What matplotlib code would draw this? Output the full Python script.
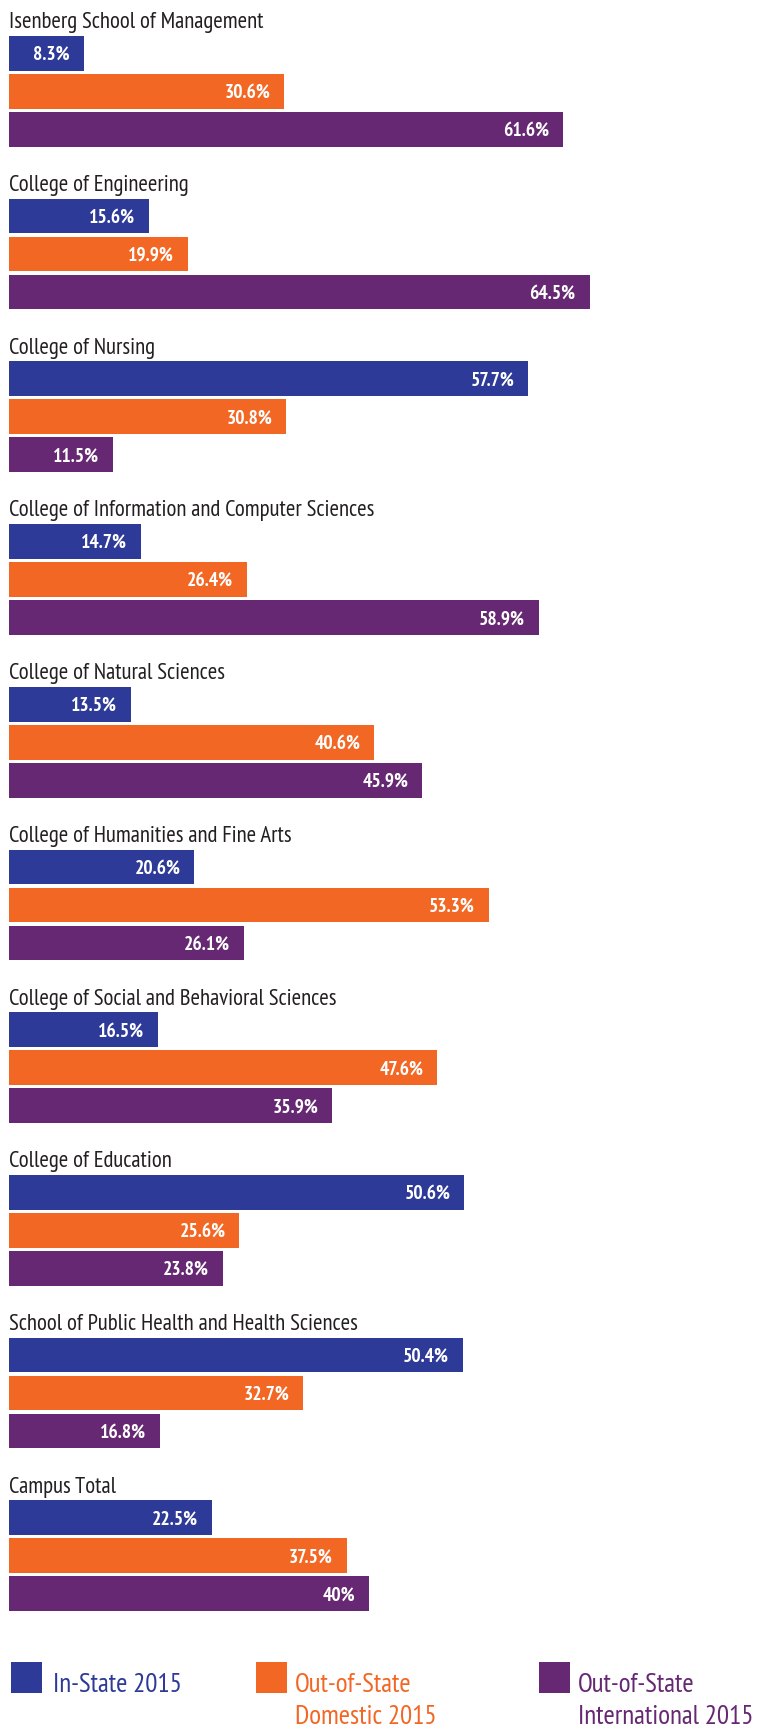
import matplotlib
matplotlib.use('Agg')
import matplotlib.pyplot as plt
from matplotlib.patches import Rectangle
from matplotlib import font_manager

# data
colleges = ['Isenberg School of Management',
            'College of Engineering',
            'College of Nursing',
            'College of Information and Computer Sciences',
            'College of Natural Sciences',
            'College of Humanities and Fine Arts',
            'College of Social and Behavioral Sciences',
            'College of Education',
            'School of Public Health and Health Sciences',
            'Campus Total']
in_state = [8.3, 15.6, 57.7, 14.7, 13.5, 20.6, 16.5, 50.6, 50.4, 22.5]
oos_domestic = [30.6, 19.9, 30.8, 26.4, 40.6, 53.3, 47.6, 25.6, 32.7, 37.5]
oos_intl = [61.6, 64.5, 11.5, 58.9, 45.9, 26.1, 35.9, 23.8, 16.8, 40]
series_names = [['In-State 2015'],
                ['Out-of-State', 'Domestic 2015'],
                ['Out-of-State', 'International 2015']]
colors = ['#2E3A97', '#F36724', '#662872']

# pick a narrow font, fall back to condensed DejaVu
installed = {f.name for f in font_manager.fontManager.ttflist}
stretch = 'normal'
font = None
for cand in ['PT Sans Narrow', 'Fira Sans Condensed', 'Roboto Condensed']:
    if cand in installed:
        font = cand
        break
if font is None:
    font = 'DejaVu Sans'
    stretch = 'condensed'
plt.rcParams['font.family'] = [font, 'DejaVu Sans']
plt.rcParams['font.stretch'] = stretch

W, H = 757, 1729
fig = plt.figure(figsize=(W / 100, H / 100), dpi=100)
ax = fig.add_axes([0, 0, 1, 1])
# x in percent (9 px per %), y in pixels from the top
x0, ppx = 9, 9.0
ax.set_xlim(-x0 / ppx, (W - x0) / ppx)
ax.set_ylim(H, 0)
ax.axis('off')

top0, pitch, step, bh = 36, 162.7, 38, 34.7

all_series = [in_state, oos_domestic, oos_intl]
for g, name in enumerate(colleges):
    top = top0 + pitch * g
    ax.text(0, top - 7.7, name, fontsize=16.4, color='#231F20',
            ha='left', va='baseline')
    for k, vals in enumerate(all_series):
        yc = top + step * k + bh / 2
        ax.barh(yc, vals[g], height=bh, color=colors[k], left=0)
        lab = ('%g' % vals[g]) + '%'
        ax.annotate(lab, xy=(vals[g], yc + 6.7), xytext=(-10, 0),
                    textcoords='offset points', ha='right', va='baseline',
                    fontsize=14, fontweight='bold', color='white')

# legend
def px(x):
    return (x - x0) / ppx

leg_x = [11, 256, 539]
txt_x = [53, 295, 578]
for k in range(3):
    ax.add_patch(Rectangle((px(leg_x[k]), 1662), 31 / ppx, 31,
                           color=colors[k], lw=0))
    for j, line in enumerate(series_names[k]):
        ax.text(px(txt_x[k]), 1692 + 32 * j, line, fontsize=19.5,
                color=colors[k], ha='left', va='baseline')

fig.savefig('out.png', dpi=100)
